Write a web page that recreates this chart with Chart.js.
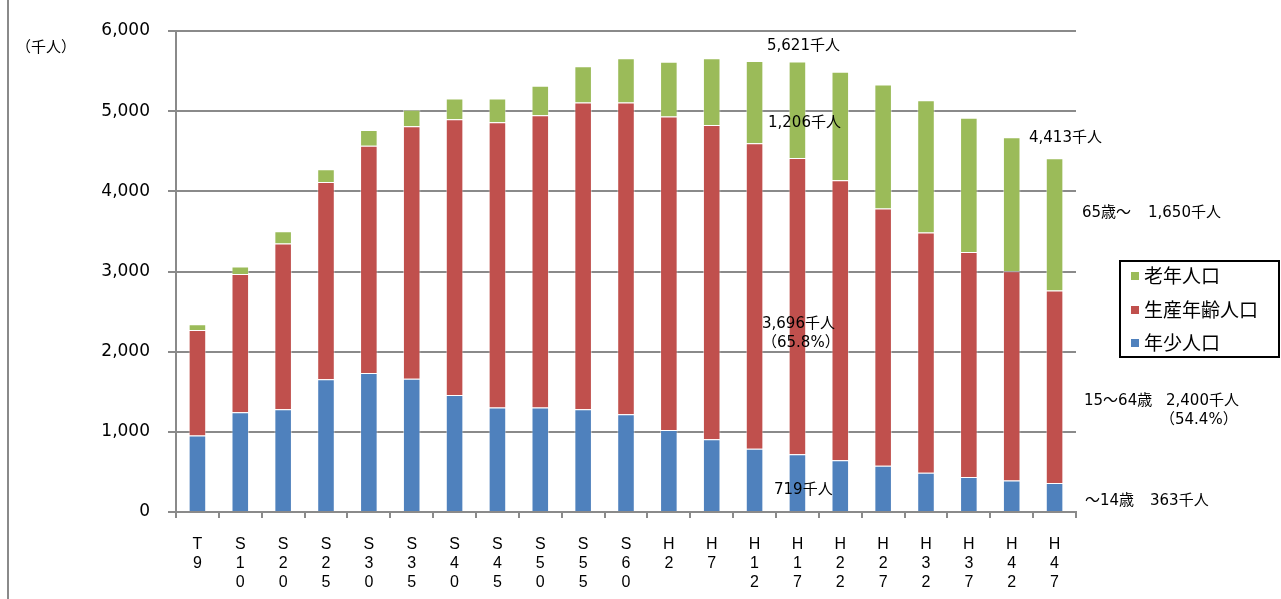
<!DOCTYPE html>
<html>
<head>
<meta charset="utf-8">
<script src="https://cdn.jsdelivr.net/npm/chart.js@4"></script>
<style>
  html, body { margin: 0; padding: 0; background: #fff; }
  #wrap { position: relative; width: 1281px; height: 599px; overflow: hidden; }
  #wrap canvas { position: absolute; left: 0; top: 0; }
  #frame { position: absolute; left: 7px; top: 0; width: 2px; height: 599px; background: #8a8a8a; }
</style>
</head>
<body>
<div id="wrap">
  <canvas id="c" width="1281" height="599"></canvas>
  <div id="frame"></div>
</div>
<script>
// Survey years (T = Taisho, S = Showa, H = Heisei)
const categories = ['T9','S10','S20','S25','S30','S35','S40','S45','S50','S55','S60',
                    'H2','H7','H12','H17','H22','H27','H32','H37','H42','H47'];

// Population by age group, thousands of people
const young   = [953, 1245, 1282, 1655, 1734, 1663, 1460, 1302, 1302, 1282, 1220,
                 1024, 909, 788, 719, 647, 577, 490, 436, 393, 363];
const working = [1316, 1725, 2068, 2461, 2834, 3148, 3438, 3559, 3646, 3827, 3889,
                 3911, 3919, 3812, 3696, 3490, 3210, 2996, 2807, 2610, 2400];
const old     = [74, 92, 151, 161, 198, 208, 261, 298, 369, 452, 552,
                 680, 833, 1027, 1206, 1354, 1546, 1649, 1676, 1672, 1650];

const yTicks = [0, 1000, 2000, 3000, 4000, 5000, 6000];

const seriesNames = { old: '老年人口', working: '生産年齢人口', young: '年少人口' };
const COLORS = { young: '#4F81BD', working: '#C0504D', old: '#9BBB59' };

const fmt = v => v.toLocaleString('en-US');
const pct = (part, total) => (part / total * 100).toFixed(1);

const iH17 = categories.indexOf('H17');
const iH47 = categories.indexOf('H47');
const totH17 = young[iH17] + working[iH17] + old[iH17];
const totH47 = young[iH47] + working[iH47] + old[iH47];

const TXT_FONT = '15px "DejaVu Sans", "Noto Sans CJK JP", sans-serif';

// Callout texts and the static legend box
const overlay = {
  id: 'overlay',
  afterDraw(chart) {
    const ctx = chart.ctx;
    ctx.save();
    ctx.fillStyle = '#000';
    ctx.textBaseline = 'middle';
    ctx.textAlign = 'left';

    ctx.font = '15px "Noto Sans CJK JP", sans-serif';
    ctx.fillText('（千人）', 16, 46);

    ctx.font = TXT_FONT;
    const put = (t, x, y) => ctx.fillText(t, x, y);
    put(fmt(totH17) + '千人', 767, 46);
    put(fmt(old[iH17]) + '千人', 768, 123);
    put(fmt(working[iH17]) + '千人', 762, 324);
    put('（' + pct(working[iH17], totH17) + '%）', 762, 343);
    put(fmt(young[iH17]) + '千人', 774, 490);

    put(fmt(totH47) + '千人', 1029, 138);
    put('65歳～', 1082, 213);
    put(fmt(old[iH47]) + '千人', 1148, 213);
    put('15～64歳', 1084, 401);
    put(fmt(working[iH47]) + '千人', 1166, 401);
    put('（' + pct(working[iH47], totH47) + '%）', 1160, 420);
    put('～14歳', 1085, 501);
    put(fmt(young[iH47]) + '千人', 1150, 501);

    // legend
    ctx.strokeStyle = '#000';
    ctx.lineWidth = 2;
    ctx.strokeRect(1120, 261, 159, 96);
    const rows = [['old', 276], ['working', 310], ['young', 343]];
    ctx.font = '19px "Noto Sans CJK JP", sans-serif';
    rows.forEach(([k, y]) => {
      ctx.fillStyle = COLORS[k];
      ctx.fillRect(1131, y - 4, 8, 8);
      ctx.fillStyle = '#000';
      ctx.fillText(seriesNames[k], 1144, y);
    });
    ctx.restore();
  }
};

const bar = (key, data) => ({
  label: seriesNames[key],
  data,
  backgroundColor: COLORS[key],
  borderColor: 'rgba(255,255,255,0.45)',
  borderWidth: 1,
  barPercentage: 0.41,
  categoryPercentage: 1.0
});

new Chart(document.getElementById('c'), {
  type: 'bar',
  data: {
    labels: categories,
    datasets: [bar('young', young), bar('working', working), bar('old', old)]
  },
  options: {
    responsive: false,
    animation: false,
    layout: { padding: { left: 0, right: 205, top: 31, bottom: 0 } },
    plugins: { legend: { display: false }, tooltip: { enabled: false } },
    scales: {
      x: {
        stacked: true,
        grid: { display: true, drawOnChartArea: false, drawTicks: true, tickLength: 6,
                color: '#8a8a8a', lineWidth: 2, offset: true },
        border: { color: '#8a8a8a', width: 2 },
        ticks: {
          autoSkip: false, maxRotation: 0, minRotation: 0, padding: 17, color: '#000',
          font: { family: '"Liberation Sans", Arial, sans-serif', size: 16, lineHeight: '19px' },
          callback: (v, i) => categories[i].split('')
        },
        afterFit: s => { s.height = 87; }
      },
      y: {
        stacked: true,
        min: yTicks[0],
        max: yTicks[yTicks.length - 1],
        afterBuildTicks: s => { s.ticks = yTicks.map(v => ({ value: v })); },
        grid: { color: '#8a8a8a', lineWidth: 2, tickLength: 8 },
        border: { color: '#8a8a8a', width: 2 },
        ticks: {
          padding: 18, color: '#000',
          font: { family: '"DejaVu Sans", sans-serif', size: 17 },
          callback: v => fmt(v)
        },
        afterFit: s => { s.width = 176; }
      }
    }
  },
  plugins: [overlay]
});
</script>
</body>
</html>
